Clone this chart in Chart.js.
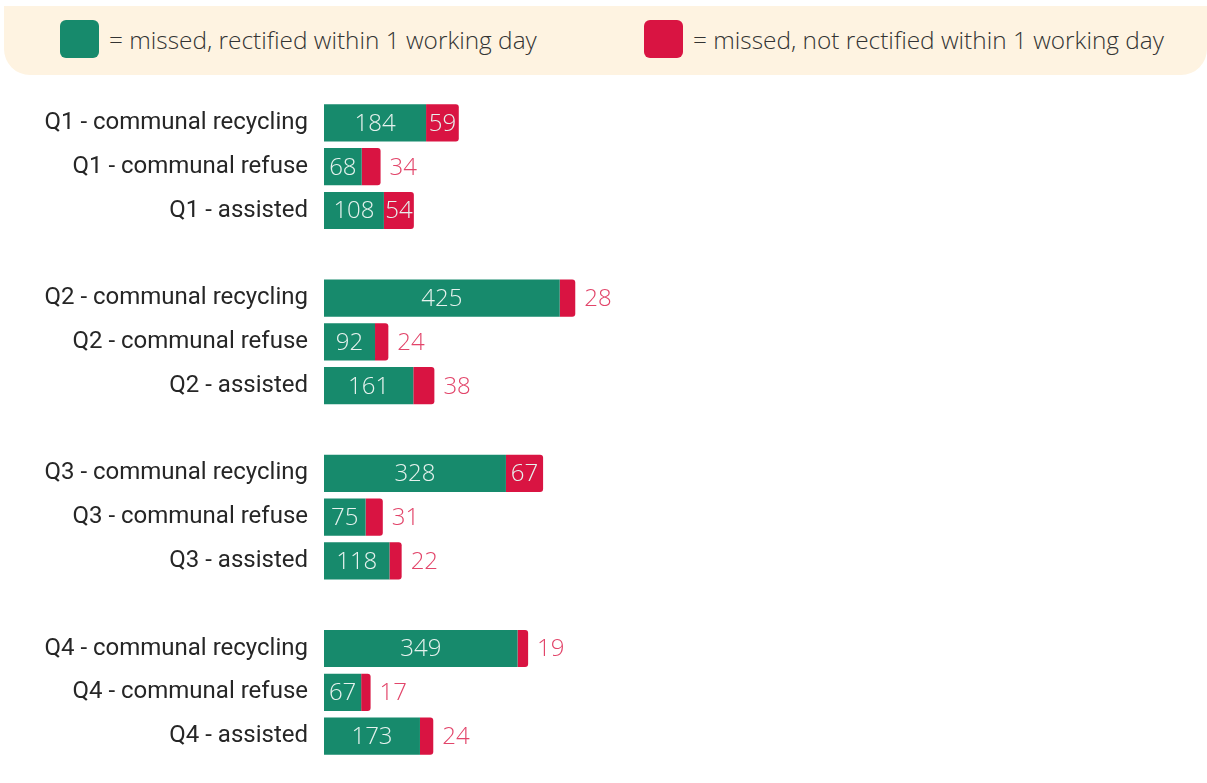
<!DOCTYPE html>
<html>
<head>
<meta charset="utf-8">
<script src="https://cdn.jsdelivr.net/npm/chart.js@4"></script>
<style>
    body { margin: 0; background: #fff; }
    .wrap { position: relative; width: 1207px; height: 783px; }
    .legend {
        position: absolute; left: 4px; top: 6px; width: 1203px; height: 69px;
        background: #fef3e1; border-radius: 0 0 26px 26px;
        font-family: 'Open Sans', sans-serif; font-weight: 300; font-size: 24.4px; color: #333;
    }
    .legend .item { position: absolute; top: 14px; display: flex; align-items: center; }
    .legend .swatch { width: 39px; height: 38px; border-radius: 6px; margin-right: 10px; }
</style>
</head>
<body>
<div class="wrap">
    <canvas id="missed"></canvas>
    <div class="legend">
        <div class="item" style="left:56px"><span class="swatch" style="background:#178a6c"></span>= missed, rectified within 1 working day</div>
        <div class="item" style="left:640px"><span class="swatch" style="background:#d91442"></span>= missed, not rectified within 1 working day</div>
    </div>
</div>
<script>
const categories = [
    'Q1 - communal recycling', 'Q1 - communal refuse', 'Q1 - assisted',
    'Q2 - communal recycling', 'Q2 - communal refuse', 'Q2 - assisted',
    'Q3 - communal recycling', 'Q3 - communal refuse', 'Q3 - assisted',
    'Q4 - communal recycling', 'Q4 - communal refuse', 'Q4 - assisted'
];
const rectified    = [184, 68, 108, 425, 92, 161, 328, 75, 118, 349, 67, 173];
const notRectified = [59, 34, 54, 28, 24, 38, 67, 31, 22, 19, 17, 24];

const green = '#178a6c';
const red = '#d91442';

// one empty row between quarters
let labels = [];
let greenData = [];
let redData = [];
categories.forEach(function (c, i) {
    if (i > 0 && i % 3 === 0) {
        labels.push('');
        greenData.push(null);
        redData.push(null);
    }
    labels.push(c);
    greenData.push(rectified[i]);
    redData.push(notRectified[i]);
});

const valueLabels = {
    id: 'valueLabels',
    afterDatasetsDraw(chart) {
        const ctx = chart.ctx;
        ctx.save();
        ctx.font = '300 24px "Open Sans"';
        ctx.textBaseline = 'middle';
        chart.data.datasets.forEach(function (ds, di) {
            const meta = chart.getDatasetMeta(di);
            meta.data.forEach(function (bar, i) {
                const v = ds.data[i];
                if (v == null) return;
                const txt = String(v);
                const w = ctx.measureText(txt).width;
                const left = Math.min(bar.x, bar.base);
                const right = Math.max(bar.x, bar.base);
                if (di === 0 || right - left >= w + 2) {
                    ctx.textAlign = 'center';
                    ctx.fillStyle = '#e6f2ee';
                    ctx.fillText(txt, (left + right) / 2, bar.y + 1);
                } else {
                    ctx.textAlign = 'left';
                    ctx.fillStyle = '#e2456a';
                    ctx.fillText(txt, right + 9, bar.y + 1);
                }
            });
        });
        ctx.restore();
    }
};

const createChart = function () {
    const config = {
        type: 'bar',
        data: {
            labels: labels,
            datasets: [
                {
                    label: 'missed, rectified within 1 working day',
                    data: greenData,
                    backgroundColor: green,
                    barPercentage: 0.85,
                    categoryPercentage: 1,
                },
                {
                    label: 'missed, not rectified within 1 working day',
                    data: redData,
                    backgroundColor: red,
                    borderRadius: 3,
                    barPercentage: 0.85,
                    categoryPercentage: 1,
                },
            ],
        },
        options: {
            indexAxis: 'y',
            responsive: true,
            maintainAspectRatio: false,
            animation: false,
            layout: { padding: { top: 101, bottom: 25, right: 51, left: 0 } },
            plugins: {
                legend: { display: false },
                tooltip: { enabled: false },
            },
            scales: {
                x: {
                    stacked: true,
                    display: false,
                    min: 0,
                    max: 1500,
                },
                y: {
                    stacked: true,
                    grid: { display: false },
                    border: { display: false },
                    afterFit: function (scale) { scale.width = 324; },
                    ticks: {
                        padding: 8,
                        color: '#262626',
                        font: { family: 'Roboto', size: 24 },
                    },
                },
            },
        },
        plugins: [valueLabels],
    };
    new Chart(document.querySelector('#missed'), config);
};

document.addEventListener('DOMContentLoaded', createChart);
</script>
</body>
</html>
